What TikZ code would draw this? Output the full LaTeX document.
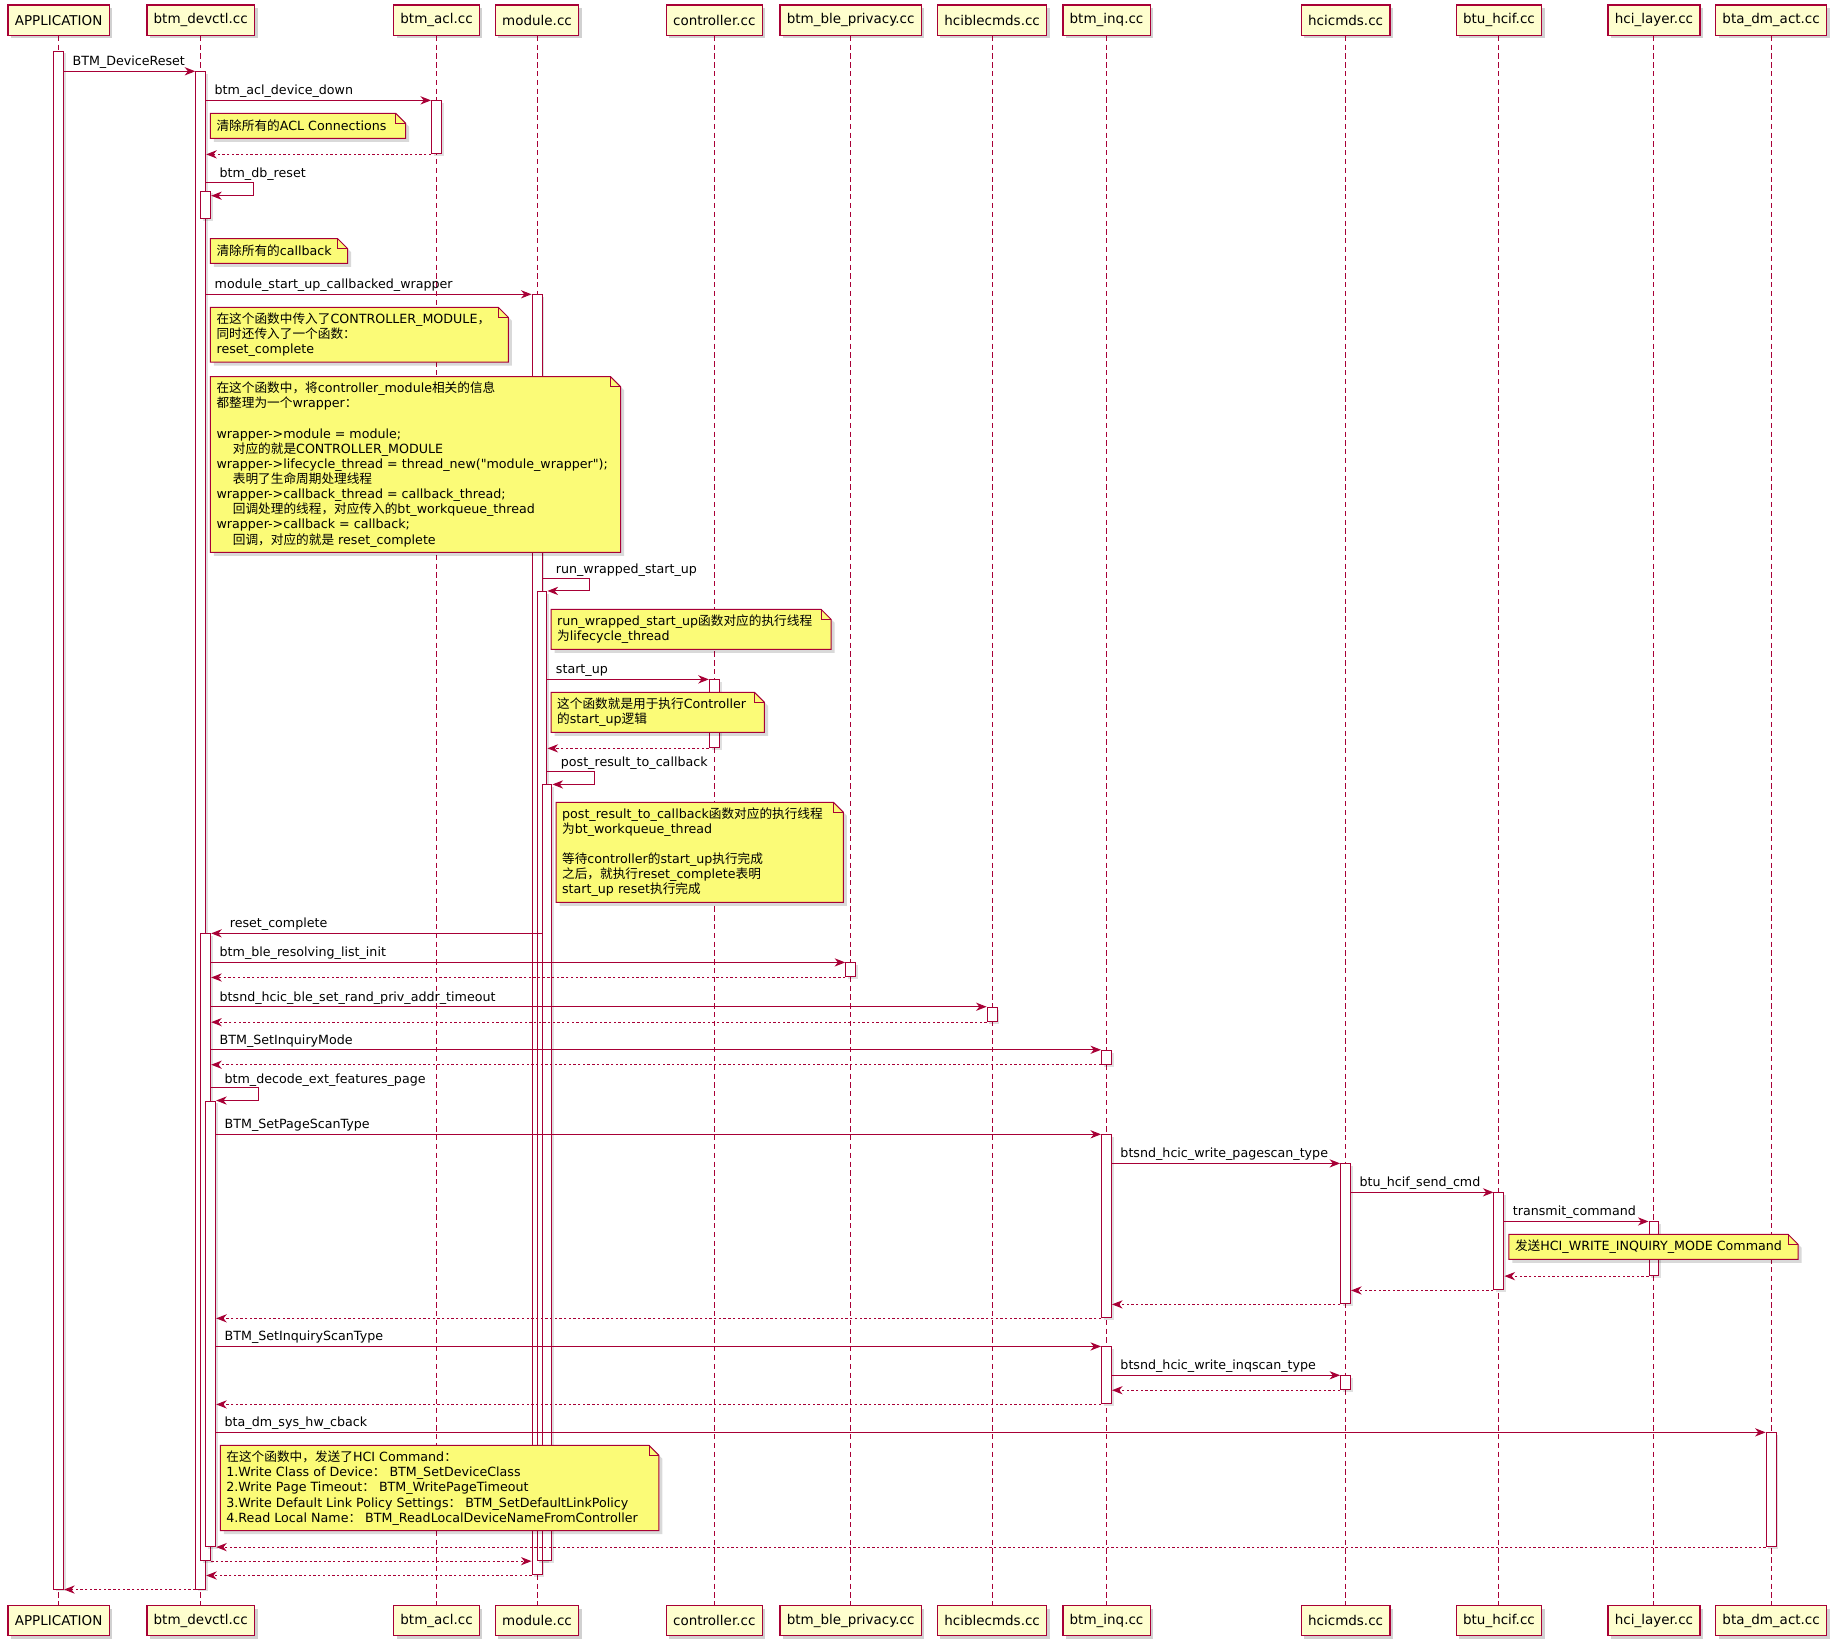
\documentclass[tikz,border=0pt]{standalone}
\usepackage{fontspec}
\setmainfont{DejaVu Sans}
\newfontfamily\rawfont{DejaVu Sans}
\newfontfamily\zhfont{Noto Sans CJK SC}
\usepackage{tikz}
\usetikzlibrary{arrows.meta,shadows}

\definecolor{umlred}{HTML}{A80036}
\definecolor{partfill}{HTML}{FEFECE}
\definecolor{notefill}{HTML}{FBFB77}

\newcommand\zh[1]{{\zhfont #1}}
\newcommand\dq{{\rawfont"}}
\newcommand\msgfont{\fontsize{10.8}{12.9}\selectfont}
\newcommand\partfont{\fontsize{11.5}{13.8}\selectfont}

\tikzset{
  part/.style={draw=umlred, fill=partfill, line width=1.1pt, font=\partfont,
    minimum height=25.7pt, inner xsep=5.8pt, inner ysep=0pt,
    drop shadow={shadow xshift=2.5pt, shadow yshift=-2.5pt, fill=black, opacity=0.18}},
  life/.style={draw=umlred, line width=0.85pt, dash pattern=on 4.5pt off 3pt},
  act/.style={draw=umlred, fill=white, line width=0.85pt, minimum width=8.5pt,
    inner sep=0pt, anchor=north,
    drop shadow={shadow xshift=2pt, shadow yshift=-2pt, fill=black, opacity=0.12}},
  msg/.style={draw=umlred, line width=0.85pt, -{Stealth[length=9pt,width=7pt,inset=2.8pt]}},
  ret/.style={msg, dash pattern=on 2pt off 2pt},
  lbl/.style={anchor=base west, inner sep=0pt, font=\msgfont},
  calllbl/.style={lbl, xshift=6.8pt, yshift=4.8pt},
  selflbl/.style={lbl, xshift=11pt, yshift=4pt},
  notebg/.style={fill=notefill, draw=umlred, line width=0.85pt},
  noteedge/.style={draw=umlred, line width=0.85pt},
  notetext/.style={anchor=west, inner sep=0pt, align=left, font=\msgfont},
}

% note with folded corner: name, x1, y1, x2, y2, text
\newcommand\notebox[6]{%
  \fill[black, opacity=0.15] ({#2+3},{#3+3}) -- ({#4-8.5+3},{#3+3}) -- ({#4+3},{#3+8.5+3})
    -- ({#4+3},{#5+3}) -- ({#2+3},{#5+3}) -- cycle;
  \filldraw[notebg] (#2,#3) -- ({#4-8.5},#3) -- (#4,{#3+8.5}) -- (#4,#5) -- (#2,#5) -- cycle;
  \draw[noteedge] ({#4-8.5},#3) -- ({#4-8.5},{#3+8.5}) -- (#4,{#3+8.5});
  \node[notetext] (#1) at ({#2+5},{(#3+#5)/2}) {#6};
}

\begin{document}
\begin{tikzpicture}[x=1pt, y=-1pt]
    \path[use as bounding box, fill=white] (0,0) rectangle (1565,1405.5);

    % participants and lifelines
    \foreach \n/\x/\t in {app/50/APPLICATION, dev/171.2/btm\_devctl.cc, acl/372.3/btm\_acl.cc,
        mod/458/module.cc, ctl/609.2/controller.cc, priv/725.5/btm\_ble\_privacy.cc,
        hble/846.1/hciblecmds.cc, inq/943.7/btm\_inq.cc, hci/1147.6/hcicmds.cc,
        btu/1278.4/btu\_hcif.cc, lay/1410.6/hci\_layer.cc, bta/1510.5/bta\_dm\_act.cc} {
        \node[part] (\n) at (\x,17.2) {\t};
        \node[part] (\n-b) at (\x,1382.2) {\t};
        \draw[life] (\n) -- (\n-b);
    }

    % activations
    \node[act, minimum height=1311.6pt] (aApp) at (50,43.2) {};
    \node[act, minimum height=1294pt] (aDev0) at (171.2,60.8) {};
    \node[act, minimum height=23.7pt] (aDev1) at (175.45,162.5) {};
    \node[act, minimum height=45.2pt] (aAcl) at (372.3,85.6) {};
    \node[act, minimum height=1091.8pt] (aMod0) at (458,251) {};
    \node[act, minimum height=826.6pt] (aMod1) at (462.25,504) {};
    \node[act, minimum height=58pt] (aCtl) at (609.2,579.4) {};
    \node[act, minimum height=661.6pt] (aMod2) at (466.5,669) {};
    \node[act, minimum height=534.6pt] (aDev2) at (175.45,796) {};
    \node[act, minimum height=12pt] (aPriv) at (725.5,820.8) {};
    \node[act, minimum height=12.3pt] (aHble) at (846.1,858.6) {};
    \node[act, minimum height=11.9pt] (aInq0) at (943.7,895.3) {};
    \node[act, minimum height=380pt] (aDev3) at (179.7,938.6) {};
    \node[act, minimum height=156.1pt] (aInq1) at (943.7,967.4) {};
    \node[act, minimum height=119.4pt] (aHci0) at (1147.6,992.2) {};
    \node[act, minimum height=82.8pt] (aBtu) at (1278.4,1016.9) {};
    \node[act, minimum height=45.8pt] (aLay) at (1410.6,1041.7) {};
    \node[act, minimum height=48.6pt] (aInq2) at (943.7,1148.3) {};
    \node[act, minimum height=11.9pt] (aHci1) at (1147.6,1172.9) {};
    \node[act, minimum height=97pt] (aBta) at (1510.5,1221.6) {};

    % messages
    \draw[msg] (aApp.east |- aDev0.north) -- (aDev0.north west) node[calllbl, pos=0] {BTM\_DeviceReset};
    \draw[msg] (aDev0.east |- aAcl.north) -- (aAcl.north west) node[calllbl, pos=0] {btm\_acl\_device\_down};
    \draw[ret] (aAcl.south west) -- (aDev0.east |- aAcl.south);
    \draw[msg] (aDev0.east |- aDev1.north) ++(0,-7) node[selflbl] {btm\_db\_reset}
        -- ++(40,0) |- ([yshift=-4.4pt]aDev1.north east);
    \draw[msg] (aDev0.east |- aMod0.north) -- (aMod0.north west) node[calllbl, pos=0] {module\_start\_up\_callbacked\_wrapper};
    \draw[msg] (aMod0.east |- aMod1.north) ++(0,-10.5) node[selflbl] {run\_wrapped\_start\_up}
        -- ++(40,0) |- (aMod1.north east);
    \draw[msg] (aMod1.east |- aCtl.north) -- (aCtl.north west) node[calllbl, pos=0] {start\_up};
    \draw[ret] (aCtl.south west) -- (aMod1.east |- aCtl.south);
    \draw[msg] (aMod1.east |- aMod2.north) ++(0,-11.2) node[selflbl] {post\_result\_to\_callback}
        -- ++(40,0) |- (aMod2.north east);
    \draw[msg] (aMod2.west |- aDev2.north) -- (aDev2.north east)
        node[lbl, pos=1, xshift=15.5pt, yshift=4.8pt] {reset\_complete};
    \draw[msg] (aDev2.east |- aPriv.north) -- (aPriv.north west) node[calllbl, pos=0] {btm\_ble\_resolving\_list\_init};
    \draw[ret] (aPriv.south west) -- (aDev2.east |- aPriv.south);
    \draw[msg] (aDev2.east |- aHble.north) -- (aHble.north west) node[calllbl, pos=0] {btsnd\_hcic\_ble\_set\_rand\_priv\_addr\_timeout};
    \draw[ret] (aHble.south west) -- (aDev2.east |- aHble.south);
    \draw[msg] (aDev2.east |- aInq0.north) -- (aInq0.north west) node[calllbl, pos=0] {BTM\_SetInquiryMode};
    \draw[ret] (aInq0.south west) -- (aDev2.east |- aInq0.south);
    \draw[msg] (aDev2.east |- aDev3.north) ++(0,-10.9) node[selflbl] {btm\_decode\_ext\_features\_page}
        -- ++(40,0) |- (aDev3.north east);
    \draw[msg] (aDev3.east |- aInq1.north) -- (aInq1.north west) node[calllbl, pos=0] {BTM\_SetPageScanType};
    \draw[msg] (aInq1.east |- aHci0.north) -- (aHci0.north west) node[calllbl, pos=0] {btsnd\_hcic\_write\_pagescan\_type};
    \draw[msg] (aHci0.east |- aBtu.north) -- (aBtu.north west) node[calllbl, pos=0] {btu\_hcif\_send\_cmd};
    \draw[msg] (aBtu.east |- aLay.north) -- (aLay.north west) node[calllbl, pos=0] {transmit\_command};
    \draw[ret] (aLay.south west) -- (aBtu.east |- aLay.south);
    \draw[ret] (aBtu.south west) -- (aHci0.east |- aBtu.south);
    \draw[ret] (aHci0.south west) -- (aInq1.east |- aHci0.south);
    \draw[ret] (aInq1.south west) -- (aDev3.east |- aInq1.south);
    \draw[msg] (aDev3.east |- aInq2.north) -- (aInq2.north west) node[calllbl, pos=0] {BTM\_SetInquiryScanType};
    \draw[msg] (aInq2.east |- aHci1.north) -- (aHci1.north west) node[calllbl, pos=0] {btsnd\_hcic\_write\_inqscan\_type};
    \draw[ret] (aHci1.south west) -- (aInq2.east |- aHci1.south);
    \draw[ret] (aInq2.south west) -- (aDev3.east |- aInq2.south);
    \draw[msg] (aDev3.east |- aBta.north) -- (aBta.north west) node[calllbl, pos=0] {bta\_dm\_sys\_hw\_cback};
    \draw[ret] (aBta.south west) -- (aDev3.east |- aBta.south);
    \draw[ret] (aDev2.south east) -- (aMod0.west |- aDev2.south);
    \draw[ret] (aMod0.south west) -- (aDev0.east |- aMod0.south);
    \draw[ret] (aDev0.south west) -- (aApp.east |- aDev0.south);

    % notes
    \notebox{nAcl}{179.5}{96.7}{346}{118}{\zh{清除所有的}ACL Connections}
    \notebox{nCb}{179.5}{203.6}{296.5}{224.6}{\zh{清除所有的}callback}
    \notebox{nCtlMod}{179.5}{262.1}{433.5}{308.8}{\zh{在这个函数中传入了}CONTROLLER\_MODULE\zh{，}\\
        \zh{同时还传入了一个函数：}\\
        reset\_complete}
    \notebox{nWrap}{179.5}{321.3}{529.2}{471.1}{\zh{在这个函数中，将}controller\_module\zh{相关的信息}\\
        \zh{都整理为一个}wrapper\zh{：}\\[12.9pt]
        wrapper->module = module;\\
        \hspace*{13.9pt}\zh{对应的就是}CONTROLLER\_MODULE\\
        wrapper->lifecycle\_thread = thread\_new(\dq module\_wrapper\dq);\\
        \hspace*{13.9pt}\zh{表明了生命周期处理线程}\\
        wrapper->callback\_thread = callback\_thread;\\
        \hspace*{13.9pt}\zh{回调处理的线程，对应传入的}bt\_workqueue\_thread\\
        wrapper->callback = callback;\\
        \hspace*{13.9pt}\zh{回调，对应的就是} reset\_complete}
    \notebox{nRun}{470}{519.7}{708.8}{553.9}{run\_wrapped\_start\_up\zh{函数对应的执行线程}\\
        \zh{为}lifecycle\_thread}
    \notebox{nStart}{470}{590.5}{652}{624.6}{\zh{这个函数就是用于执行}Controller\\
        \zh{的}start\_up\zh{逻辑}}
    \notebox{nPost}{474.2}{684.2}{719.3}{769.5}{post\_result\_to\_callback\zh{函数对应的执行线程}\\
        \zh{为}bt\_workqueue\_thread\\[12.9pt]
        \zh{等待}controller\zh{的}start\_up\zh{执行完成}\\
        \zh{之后，就执行}reset\_complete\zh{表明}\\
        start\_up reset\zh{执行完成}}
    \notebox{nHciCmd}{1286.9}{1052.7}{1533.5}{1074}{\zh{发送}HCI\_WRITE\_INQUIRY\_MODE Command}
    \notebox{nCmds}{187.9}{1232.7}{562}{1305.4}{\zh{在这个函数中，发送了}HCI Command\zh{：}\\
        1.Write Class of Device\zh{：} BTM\_SetDeviceClass\\
        2.Write Page Timeout\zh{：} BTM\_WritePageTimeout\\
        3.Write Default Link Policy Settings\zh{：} BTM\_SetDefaultLinkPolicy\\
        4.Read Local Name\zh{：} BTM\_ReadLocalDeviceNameFromController}
\end{tikzpicture}
\end{document}
